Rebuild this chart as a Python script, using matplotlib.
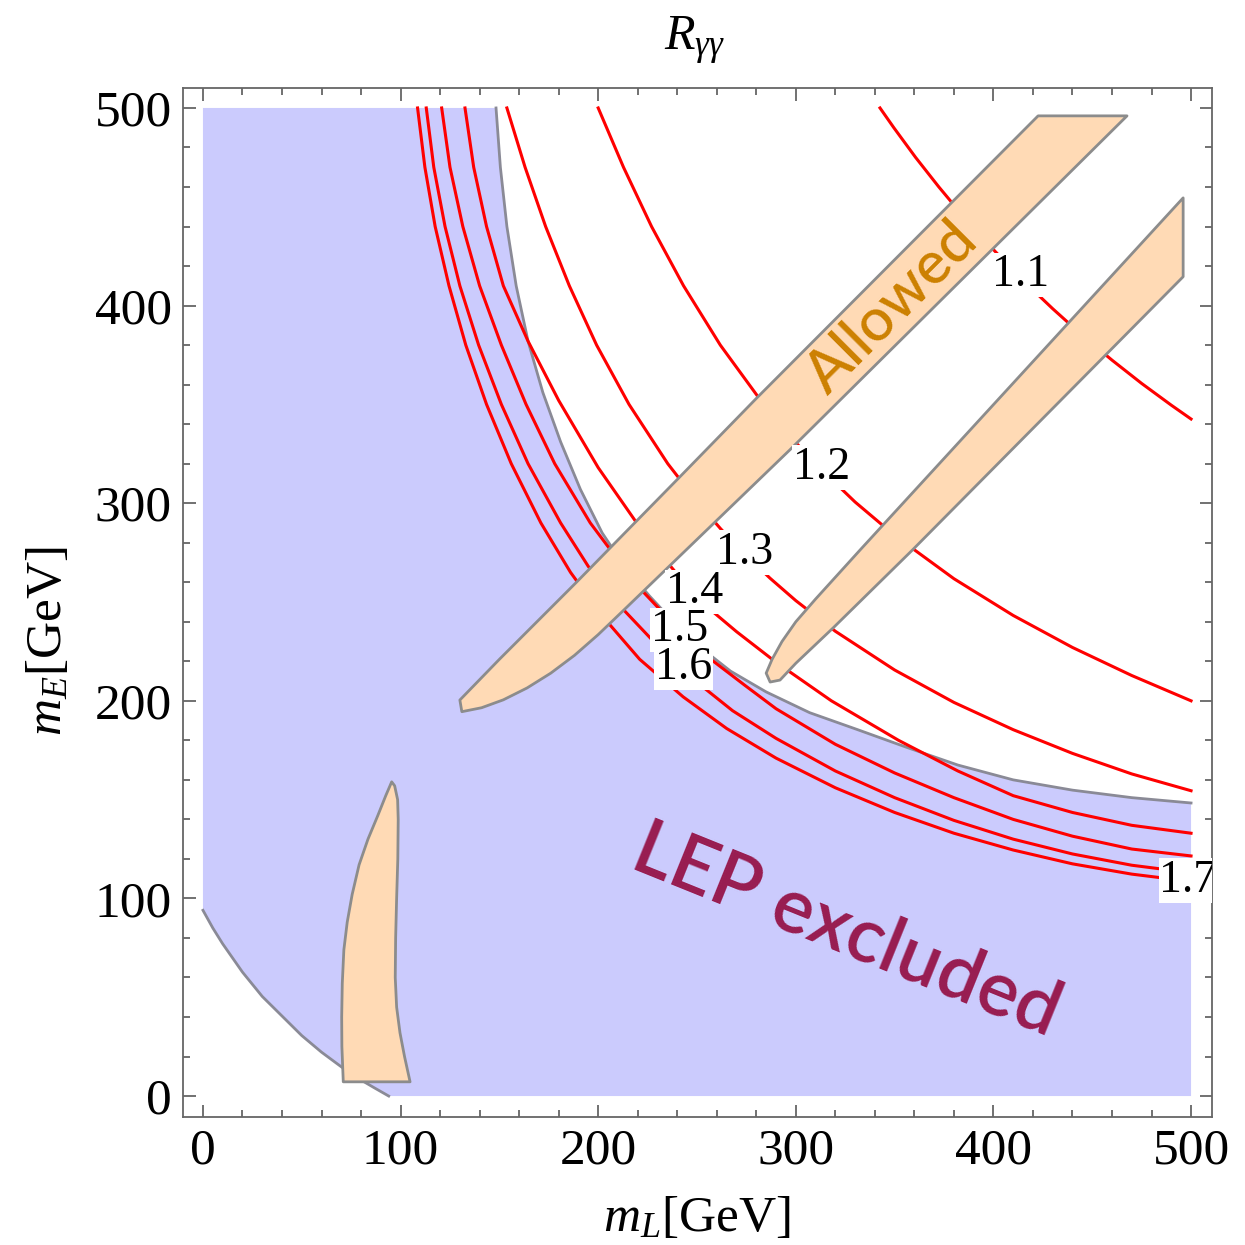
import numpy as np
import matplotlib.pyplot as plt
from matplotlib.ticker import MultipleLocator

plt.rcParams['font.family'] = ['Liberation Serif', 'DejaVu Serif']
plt.rcParams['mathtext.fontset'] = 'custom'
plt.rcParams['mathtext.rm'] = 'Liberation Serif'
plt.rcParams['mathtext.it'] = 'Liberation Serif:italic'

# LEP bound, edge of the white region (upper right)
lep_x = [148.3, 150.5, 153.8, 158.5, 164.5, 172, 181, 191, 202, 214, 226, 239,
         253, 267, 285, 307, 331, 356, 382, 410, 440, 470, 500]
lep_y = [500, 470, 440, 410, 382, 356, 331, 307, 285, 267, 253, 239,
         226, 215, 204.5, 194, 185.5, 176.5, 167.5, 160, 154.8, 151, 148.3]
# edge of the white corner (lower left)
low_x = [0, 5, 10, 20, 30, 40, 50, 60, 70, 80, 87, 94]
low_y = [94, 85, 77, 62.7, 50.4, 40.5, 30.6, 22.2, 14.8, 8.1, 4, 0]

# allowed bands
band1_x = [130, 150, 189, 241, 280, 422.6, 467.6, 297, 226, 212, 200, 188, 176, 164, 152, 141, 131]
band1_y = [200.4, 221, 260, 313, 353, 496, 496, 327, 258.5, 245, 233.5, 223, 214, 206.5, 200.5, 196.5, 194.5]
band2_x = [285, 288, 293, 300, 310, 332.5, 496, 496, 359, 319, 300, 292, 287]
band2_y = [214, 221, 230, 240, 251.5, 276.3, 454.5, 414.6, 276.3, 237, 219, 210.5, 209.5]
band3_x = [71, 70.3, 70.2, 70.5, 71.3, 73, 75.5, 79, 83.5, 88.5, 92.5, 95.5,
           97, 98.5, 98.8, 98.6, 98, 97.5, 97.3, 98, 99.7, 102, 104.8]
band3_y = [7.2, 25, 40, 57, 74, 88, 102, 117, 130, 142, 152, 159,
           157, 150, 140, 120, 100, 80, 60, 45, 32, 20, 7.2]

# R_gamma gamma contours
c11_x = [342.6, 349.6, 360.6, 372.4, 384.9, 398.4, 413.8, 430, 445, 460, 475, 490, 500]
c11_y = [500, 490, 475, 460, 445, 430, 413.8, 398.4, 384.9, 372.4, 360.6, 349.6, 342.6]
c12_x = [200, 212.8, 227, 243.2, 261.8, 283.7, 300.6, 315, 330, 350, 380, 410, 440, 470, 500]
c12_y = [500, 470, 440, 410, 380, 350, 330, 315, 300.6, 283.7, 261.8, 243.2, 227, 212.8, 200]
c13_x = [153.8, 163, 173.4, 185.4, 199.2, 215.6, 235.2, 250.7, 262, 274.2,
         287, 300, 320, 350, 380, 410, 440, 470, 500]
c13_y = [500, 470, 440, 410, 380, 350, 320, 300, 287, 274.2,
         262, 250.7, 235.2, 215.6, 199.2, 185.4, 173.4, 163, 154.5]
c14_x = [132.6, 137, 143.5, 152, 164.5, 180, 200, 219.5, 235, 251,
         270, 290, 318, 352, 382, 410, 440, 470, 500]
c14_y = [500, 470, 440, 410, 382, 352, 318, 290, 270, 251,
         235, 219.5, 200, 180, 164.5, 152, 143.5, 137, 133]
c15_x = [120.8, 125, 131.5, 140, 151, 163.5, 178, 196, 208, 221, 238.5,
         257, 274, 290, 320, 350, 380, 410, 440, 470, 500]
c15_y = [500, 470, 440, 410, 380, 350, 320, 290, 274, 257, 238.5,
         221, 208, 196, 178, 163.5, 151, 140, 131.5, 125, 121.5]
c16_x = [113, 116.8, 122.5, 130, 139.5, 151, 164.5, 181, 195, 211, 229,
         248, 268, 290, 320, 350, 380, 410, 440, 470, 500]
c16_y = [500, 470, 440, 410, 380, 350, 320, 290, 268, 248, 229,
         211, 195, 181, 164.5, 151, 139.5, 130, 122.5, 116.8, 113]
c17_x = [108.6, 112.3, 117.5, 124.5, 133, 143.5, 156, 171, 186, 202, 221,
         243, 265, 290, 320, 350, 380, 410, 440, 470, 500]
c17_y = [500, 470, 440, 410, 380, 350, 320, 290, 265, 243, 221,
         202, 186, 171, 156, 143.5, 133, 124.5, 117.5, 112.3, 108.6]
contours = [(c11_x, c11_y), (c12_x, c12_y), (c13_x, c13_y), (c14_x, c14_y),
            (c15_x, c15_y), (c16_x, c16_y), (c17_x, c17_y)]

label_text = ['1.1', '1.2', '1.3', '1.4', '1.5', '1.6', '1.7']
label_x = [413.5, 313, 274, 249, 241, 243, 498.5]
label_y = [415.5, 318, 275, 255, 236, 216.6, 109]

fig = plt.figure(figsize=(12.45, 12.45), dpi=100)
ax = fig.add_axes([183 / 1245, 128 / 1245, 1029 / 1245, 1029 / 1245])

blue_x = [0] + lep_x + [500] + low_x[::-1]
blue_y = [500] + lep_y + [0] + low_y[::-1]
ax.fill(blue_x, blue_y, color='#cbcbfd', lw=0, zorder=1)
ax.plot(lep_x, lep_y, color='#8a8a96', lw=2.0, zorder=2)
ax.plot(low_x, low_y, color='#8a8a96', lw=2.0, zorder=2)

for cx, cy in contours:
    ax.plot(cx, cy, color='#ff0000', lw=2.2, zorder=3, solid_joinstyle='round')

for bx, by in [(band1_x, band1_y), (band2_x, band2_y), (band3_x, band3_y)]:
    ax.fill(bx, by, facecolor='#ffdab5', edgecolor='#8c8c8c', lw=2.0, zorder=4,
            joinstyle='round')

for t, lx, ly in zip(label_text, label_x, label_y):
    ax.text(lx, ly, t, fontsize=33, ha='center', va='center', zorder=5, clip_on=True,
            bbox=dict(boxstyle='square,pad=0.02', fc='white', ec='none'))

ax.text(349, 399, 'Allowed', family=['Lato', 'DejaVu Sans'], fontsize=43, color='#cc8000',
        fontweight=500, rotation=45, rotation_mode='anchor', ha='center', va='center', zorder=6)
ax.text(326, 83.5, 'LEP excluded', family=['Lato', 'DejaVu Sans'], fontsize=55, color='#981c50',
        fontweight=600, rotation=-22, rotation_mode='anchor', ha='center', va='center', zorder=6)

ax.set_xlim(-10.1, 510.6)
ax.set_ylim(-10.6, 510.1)
ax.xaxis.set_major_locator(MultipleLocator(100))
ax.yaxis.set_major_locator(MultipleLocator(100))
ax.xaxis.set_minor_locator(MultipleLocator(20))
ax.yaxis.set_minor_locator(MultipleLocator(20))
ax.tick_params(which='both', direction='in', top=True, right=True, color='#666666', width=1.3)
ax.tick_params(which='major', length=9, labelsize=37, pad=8)
ax.tick_params(which='minor', length=5)
for s in ax.spines.values():
    s.set_color('#666666')
    s.set_linewidth(1.3)

fig.text(695 / 1245, 1 - 50 / 1245, r'$R_{\gamma\gamma}$', fontsize=36, ha='center', va='baseline')
fig.text(697 / 1245, 1 - 1231 / 1245, r'$m_L$[GeV]', fontsize=37, ha='center', va='baseline')
fig.text(49 / 1245, 604 / 1245, r'$m_E$[GeV]', fontsize=37, ha='center', va='center', rotation=90)

fig.savefig('out.png', dpi=100)
